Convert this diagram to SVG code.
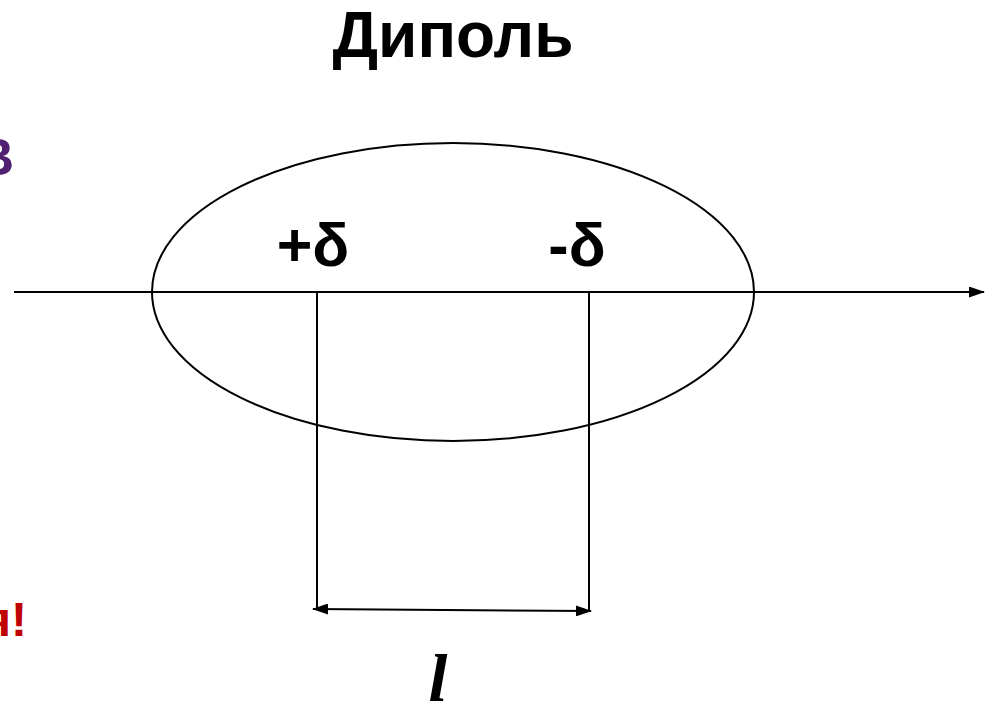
<svg xmlns="http://www.w3.org/2000/svg" width="986" height="705" viewBox="0 0 986 705">
<style>
.ln{stroke:#000;stroke-width:2;fill:none}
.lbl{font-family:"Liberation Sans",Arial,sans-serif;font-weight:bold;fill:#000}
</style>
<defs>
<marker id="ah" viewBox="0 0 16 11" refX="15" refY="5.5" markerWidth="16" markerHeight="11" markerUnits="userSpaceOnUse" orient="auto-start-reverse">
<path d="M0,0 L16,5.5 L0,11 Z" fill="#000"/>
</marker>
</defs>
<rect width="986" height="705" fill="#fff"/>
<g id="title"><text class="lbl" x="453" y="57" font-size="64" text-anchor="middle">Диполь</text></g>
<g id="partial-left-top"><text x="14" y="175" font-family="Liberation Sans,Arial,sans-serif" font-weight="bold" font-size="52" fill="#4F2170" text-anchor="end">В</text></g>
<g id="partial-left-bottom"><text x="27" y="636" font-family="Liberation Sans,Arial,sans-serif" font-weight="bold" font-size="48" fill="#C00000" text-anchor="end">я!</text></g>
<g id="molecule"><ellipse class="ln" cx="453" cy="292" rx="301" ry="149"/></g>
<g id="plus"><text class="lbl" x="313" y="266" font-size="61" text-anchor="middle">+δ</text></g>
<g id="minus"><text class="lbl" x="577" y="266" font-size="61" text-anchor="middle">-δ</text></g>
<g id="length"><text x="438" y="701" font-family="'Liberation Serif','Times New Roman',serif" font-weight="bold" font-style="italic" font-size="68" text-anchor="middle" fill="#000">l</text></g>
<g id="connectors">
<line class="ln" x1="14" y1="292" x2="984" y2="292" marker-end="url(#ah)"/>
<line class="ln" x1="317" y1="292" x2="317" y2="610"/>
<line class="ln" x1="589" y1="292" x2="589" y2="611"/>
<line class="ln" x1="313" y1="609" x2="591" y2="611" stroke-width="2.4" marker-start="url(#ah)" marker-end="url(#ah)"/>
</g>
</svg>
